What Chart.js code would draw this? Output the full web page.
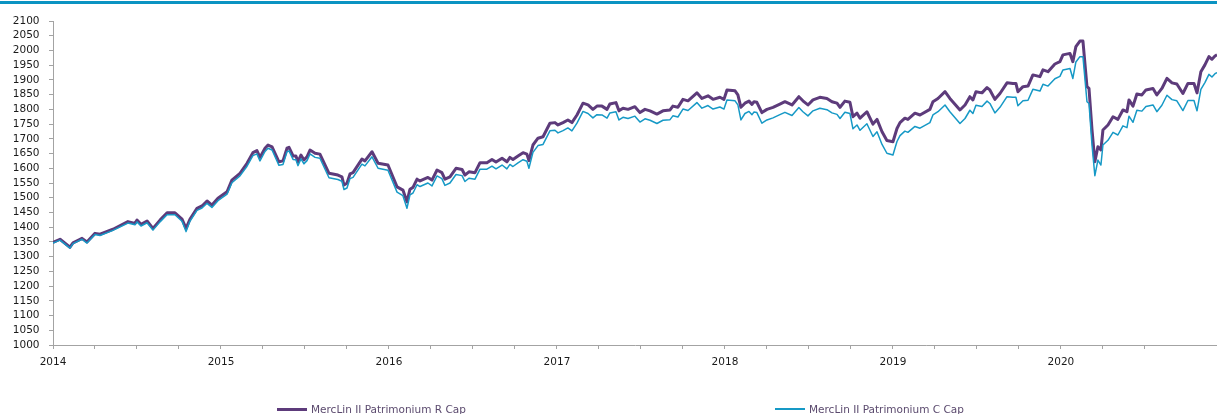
<!DOCTYPE html>
<html>
<head>
<meta charset="utf-8">
<script src="https://cdn.jsdelivr.net/npm/chart.js@4/dist/chart.umd.min.js"></script>
<style>
  html, body { margin: 0; padding: 0; background: #ffffff; }
  #wrap { position: relative; width: 1217px; height: 414px; overflow: hidden; }
  #topline { position: absolute; left: 0; top: 1px; width: 1217px; height: 3px; background: #0a93c2; }
  canvas { position: absolute; left: 0; top: 0; }
  .lg { position: absolute; font-family: "DejaVu Sans", sans-serif; font-size: 10.5px; line-height: 12px; color: #5b4a6e; white-space: nowrap; }
  .lgline { position: absolute; width: 30px; }
</style>
</head>
<body>
<div id="wrap">
  <canvas id="c" width="1217" height="414"></canvas>
  <div id="topline"></div>
  <div id="legend"></div>
</div>
<script>
// Dates as fractional years (weekly-ish readings)
const dates = [
2014.000,2014.042,2014.101,2014.119,2014.173,2014.202,2014.250,2014.280,2014.357,2014.446,
2014.488,2014.500,2014.524,2014.560,2014.595,2014.637,2014.679,2014.726,2014.768,2014.792,
2014.815,2014.857,2014.887,2014.917,2014.946,2014.982,2015.036,2015.065,2015.113,2015.155,
2015.190,2015.214,2015.232,2015.262,2015.280,2015.304,2015.345,2015.369,2015.393,2015.405,
2015.429,2015.446,2015.458,2015.476,2015.494,2015.512,2015.530,2015.560,2015.589,2015.643,
2015.696,2015.720,2015.732,2015.750,2015.768,2015.786,2015.839,2015.857,2015.899,2015.935,
2015.994,2016.048,2016.083,2016.107,2016.125,2016.143,2016.167,2016.185,2016.232,2016.256,
2016.286,2016.315,2016.333,2016.363,2016.399,2016.435,2016.452,2016.476,2016.512,2016.542,
2016.583,2016.613,2016.637,2016.673,2016.702,2016.720,2016.738,2016.768,2016.798,2016.821,
2016.833,2016.857,2016.887,2016.917,2016.958,2016.988,2017.006,2017.036,2017.065,2017.089,
2017.119,2017.155,2017.185,2017.214,2017.238,2017.268,2017.298,2017.315,2017.351,2017.369,
2017.393,2017.423,2017.464,2017.494,2017.524,2017.554,2017.595,2017.631,2017.673,2017.690,
2017.720,2017.750,2017.780,2017.833,2017.863,2017.899,2017.929,2017.970,2017.994,2018.012,
2018.060,2018.077,2018.095,2018.119,2018.143,2018.161,2018.173,2018.190,2018.220,2018.250,
2018.286,2018.327,2018.357,2018.399,2018.440,2018.464,2018.494,2018.524,2018.565,2018.607,
2018.637,2018.667,2018.685,2018.714,2018.744,2018.762,2018.786,2018.804,2018.845,2018.881,
2018.905,2018.935,2018.964,2019.000,2019.024,2019.042,2019.071,2019.089,2019.131,2019.161,
2019.220,2019.238,2019.268,2019.310,2019.339,2019.399,2019.429,2019.458,2019.476,2019.494,
2019.530,2019.560,2019.577,2019.607,2019.637,2019.679,2019.714,2019.732,2019.744,2019.774,
2019.804,2019.833,2019.875,2019.893,2019.923,2019.964,2019.994,2020.012,2020.054,2020.071,
2020.089,2020.113,2020.131,2020.155,2020.167,2020.185,2020.202,2020.220,2020.238,2020.250,
2020.280,2020.310,2020.339,2020.369,2020.393,2020.405,2020.429,2020.452,2020.482,2020.506,
2020.548,2020.571,2020.601,2020.631,2020.661,2020.690,2020.726,2020.756,2020.792,2020.810,
2020.833,2020.857,2020.881,2020.899,2020.917,2020.929
];

const rCap = [
1348,1359,1332,1347,1362,1350,1379,1376,1393,1419,
1413,1424,1410,1421,1396,1424,1449,1449,1427,1396,
1427,1464,1472,1489,1475,1498,1520,1560,1583,1617,
1653,1660,1637,1668,1679,1673,1622,1625,1668,1671,
1642,1642,1622,1645,1628,1639,1662,1651,1648,1583,
1577,1571,1543,1549,1581,1585,1631,1625,1656,1617,
1611,1537,1526,1486,1529,1535,1563,1557,1569,1560,
1594,1585,1563,1571,1600,1596,1577,1588,1585,1619,
1619,1630,1621,1634,1622,1637,1630,1642,1653,1648,
1626,1679,1702,1707,1753,1755,1747,1755,1764,1755,
1781,1821,1815,1800,1811,1811,1800,1818,1823,1795,
1804,1800,1809,1789,1800,1795,1784,1795,1798,1811,
1807,1834,1829,1856,1837,1846,1834,1841,1834,1866,
1863,1849,1807,1821,1828,1817,1826,1824,1789,1800,
1807,1818,1826,1815,1843,1829,1815,1832,1841,1837,
1826,1821,1807,1828,1824,1775,1787,1770,1792,1750,
1766,1724,1694,1690,1735,1755,1770,1766,1787,1781,
1800,1826,1837,1860,1837,1798,1815,1843,1832,1860,
1856,1874,1866,1834,1854,1890,1888,1888,1860,1877,
1879,1917,1911,1934,1928,1954,1962,1985,1990,1962,
2013,2032,2032,1877,1871,1730,1622,1673,1662,1730,
1747,1775,1766,1798,1792,1832,1811,1852,1849,1866,
1871,1849,1871,1905,1890,1886,1854,1888,1888,1856,
1928,1951,1979,1970,1981,1985
];

const cCap = [
1346,1356,1329,1344,1359,1346,1375,1372,1389,1414,
1408,1418,1404,1415,1390,1418,1442,1442,1420,1385,
1420,1457,1465,1481,1467,1490,1512,1551,1574,1607,
1643,1649,1625,1657,1668,1662,1610,1613,1656,1659,
1630,1629,1609,1632,1615,1626,1649,1637,1634,1568,
1562,1556,1528,1533,1565,1569,1614,1608,1639,1600,
1593,1519,1507,1464,1510,1516,1544,1538,1550,1540,
1574,1565,1542,1550,1579,1575,1555,1566,1563,1597,
1597,1607,1598,1611,1598,1613,1606,1618,1629,1624,
1600,1654,1677,1681,1727,1729,1720,1728,1737,1727,
1753,1793,1786,1771,1782,1781,1770,1788,1792,1764,
1773,1769,1777,1757,1768,1763,1752,1763,1765,1778,
1774,1801,1796,1823,1804,1813,1801,1808,1801,1832,
1829,1815,1764,1786,1793,1782,1791,1789,1753,1764,
1771,1782,1790,1779,1806,1792,1778,1795,1804,1799,
1788,1783,1769,1790,1786,1734,1747,1729,1751,1708,
1724,1681,1651,1645,1691,1711,1726,1722,1742,1736,
1755,1781,1792,1815,1792,1752,1769,1797,1786,1814,
1810,1828,1820,1788,1807,1843,1841,1841,1812,1829,
1831,1868,1862,1885,1879,1904,1912,1934,1939,1905,
1961,1979,1979,1826,1820,1678,1575,1628,1611,1679,
1695,1722,1713,1744,1738,1777,1756,1797,1794,1810,
1815,1792,1814,1848,1833,1829,1796,1830,1830,1795,
1868,1891,1919,1910,1921,1925
];

const seriesNames = ["MercLin II Patrimonium R Cap", "MercLin II Patrimonium C Cap"];
const seriesColors = ["#5d3b7b", "#1699c6"];
const yMin = 1000, yMax = 2100, yStep = 50;
const xMin = 2014, xMax = 2020.929, xStep = 0.25;

const toPts = (vals) => vals.map((v, i) => ({ x: dates[i], y: v }));

const axisColor = "#a3a3a3";
const tickFont = { family: "DejaVu Sans", size: 10.5 };

const chart = new Chart(document.getElementById("c"), {
  type: "line",
  data: {
    datasets: [
      { label: seriesNames[1], data: toPts(cCap), borderColor: seriesColors[1], borderWidth: 1.5, pointRadius: 0, tension: 0, fill: false, borderJoinStyle: "round" },
      { label: seriesNames[0], data: toPts(rCap), borderColor: seriesColors[0], borderWidth: 3, pointRadius: 0, tension: 0, fill: false, borderJoinStyle: "round" }
    ]
  },
  options: {
    responsive: false,
    maintainAspectRatio: false,
    animation: false,
    devicePixelRatio: 1,
    layout: { padding: { top: 21, left: 0, right: 0, bottom: 0 } },
    plugins: { legend: { display: false }, tooltip: { enabled: false } },
    scales: {
      x: {
        type: "linear",
        min: xMin, max: xMax,
        afterFit: (s) => { s.height = 69; s.paddingLeft = 0; s.paddingRight = 0; },
        border: { display: true, color: axisColor, width: 1 },
        grid: { drawOnChartArea: false, drawTicks: true, tickLength: 4, color: axisColor },
        ticks: {
          stepSize: xStep, autoSkip: false, maxRotation: 0, padding: 7,
          color: "#1a1a1a", font: tickFont,
          callback: (v) => (Math.abs(v - Math.round(v)) < 1e-6 ? String(Math.round(v)) : "")
        }
      },
      y: {
        min: yMin, max: yMax,
        afterFit: (s) => { s.width = 53; s.paddingTop = 0; s.paddingBottom = 0; },
        border: { display: true, color: axisColor, width: 1 },
        grid: { drawOnChartArea: false, drawTicks: true, tickLength: 4, color: axisColor },
        ticks: { stepSize: yStep, autoSkip: false, padding: 9.5, color: "#1a1a1a", font: tickFont,
          callback: (v) => String(v) }
      }
    }
  }
});

// HTML legend built from the datasets
const legendPos = [
  { name: seriesNames[0], color: seriesColors[0], lx: 277, thick: 3 },
  { name: seriesNames[1], color: seriesColors[1], lx: 775, thick: 2 }
];
const lg = document.getElementById("legend");
legendPos.forEach(p => {
  const line = document.createElement("div");
  line.className = "lgline";
  line.style.left = p.lx + "px";
  line.style.top = (409 - p.thick / 2) + "px";
  line.style.height = p.thick + "px";
  line.style.background = p.color;
  lg.appendChild(line);
  const t = document.createElement("div");
  t.className = "lg";
  t.style.left = (p.lx + 34) + "px";
  t.style.top = "403px";
  t.textContent = p.name;
  lg.appendChild(t);
});
</script>
</body>
</html>
